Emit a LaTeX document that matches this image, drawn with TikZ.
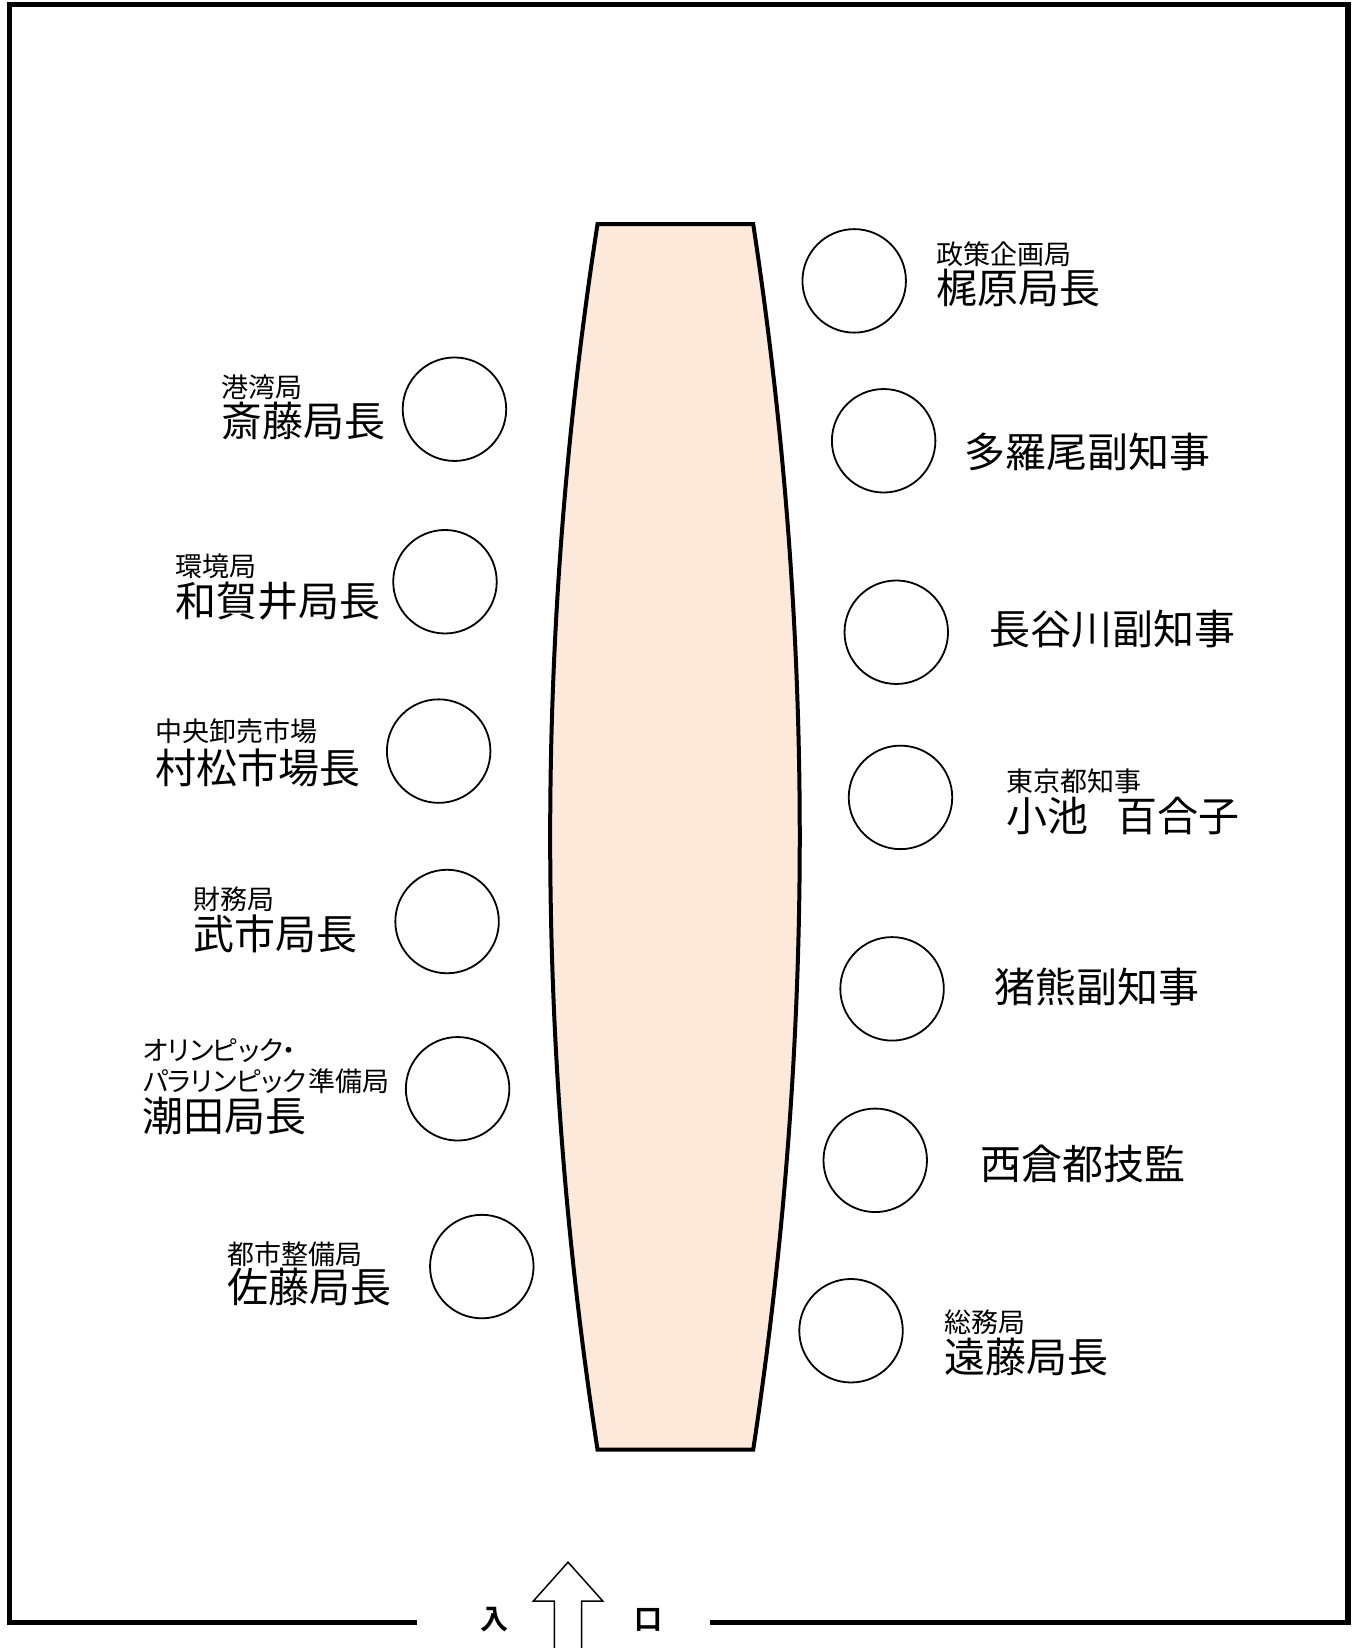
\documentclass[tikz,border=0pt]{standalone}
\usepackage{fontspec}
\newfontfamily\jp{Noto Sans CJK JP}
\newfontfamily\jpk[LetterSpace=-14]{Noto Sans CJK JP}
\newfontfamily\jpb{Noto Sans CJK JP Bold}
\begin{document}
\begin{tikzpicture}[x=1.05194pt,y=-1.05194pt,
  seat/.style={draw=black,line width=1.8pt,circle,minimum size=103.5pt,inner sep=0pt},
  big/.style={anchor=west,inner sep=0pt,font=\jp\fontsize{41pt}{45pt}\selectfont},
  small/.style={anchor=west,inner sep=0pt,font=\jp\fontsize{27pt}{30pt}\selectfont},
  door/.style={anchor=center,inner sep=0pt,font=\jpb\fontsize{28pt}{30pt}\selectfont}]
\useasboundingbox (0,0) rectangle (1290,1566.6);
% room walls
\draw[line width=5.5pt] (396,1542.5) -- (9,1542.5) -- (9,4.3) -- (1281.5,4.3) -- (1281.5,1542.5) -- (675,1542.5);
% table
\draw[line width=4pt,fill={rgb,255:red,252;green,233;blue,218}]
  (568,213) -- (716,213) .. controls (775,601) and (775,989) .. (716,1378) -- (568,1378) .. controls (508,989) and (508,601) .. (568,213) -- cycle;
% seats left
\node[seat] (l1) at (432,389) {};
\node[seat] (l2) at (423,553) {};
\node[seat] (l3) at (417,714) {};
\node[seat] (l4) at (425,876) {};
\node[seat] (l5) at (435,1035) {};
\node[seat] (l6) at (458,1204) {};
% seats right
\node[seat] (r1) at (812,267) {};
\node[seat] (r2) at (840,419) {};
\node[seat] (r3) at (852,601) {};
\node[seat] (r4) at (856,758) {};
\node[seat] (r5) at (848,940) {};
\node[seat] (r6) at (832,1103) {};
\node[seat] (r7) at (809,1265) {};
% labels left
\node[small] (l1a) at (210,368) {港湾局};
\node[big] (l1b) at (210,400) {斎藤局長};
\node[small] (l2a) at (167,538) {環境局};
\node[big] (l2b) at (167,571) {和賀井局長};
\node[small] (l3a) at (148,695) {中央卸売市場};
\node[big] (l3b) at (148,730) {村松市場長};
\node[small] (l4a) at (184,855) {財務局};
\node[big] (l4b) at (184,888) {武市局長};
\node[small] (l5a) at (135,999) {{\jpk オリンピック}\hspace{-10pt}・};
\node[small] (l5b) at (135,1028) {{\jpk パラリンピック}準備局};
\node[big] (l5c) at (135,1061) {潮田局長};
\node[small] (l6a) at (216,1192) {都市整備局};
\node[big] (l6b) at (216,1223) {佐藤局長};
% labels right
\node[small] (r1a) at (890,242) {政策企画局};
\node[big] (r1b) at (890,274) {梶原局長};
\node[big] (r2a) at (917,430) {多羅尾副知事};
\node[big] (r3a) at (940,598) {長谷川副知事};
\node[small] (r4a) at (957,743) {東京都知事};
\node[big] (r4b) at (957,776) {小池\hspace{28pt}百合子};
\node[big] (r5a) at (945,938) {猪熊副知事};
\node[big] (r6a) at (932,1106) {西倉都技監};
\node[small] (r7a) at (898,1257) {総務局};
\node[big] (r7b) at (898,1290) {遠藤局長};
% entrance
\draw[line width=1.5pt] (527,1570) -- (527,1522) -- (507,1522) -- (540,1485) -- (573,1522) -- (553,1522) -- (553,1570);
\node[door] (in1) at (470,1540) {入};
\node[door] (in2) at (616,1540) {口};
\end{tikzpicture}
\end{document}
